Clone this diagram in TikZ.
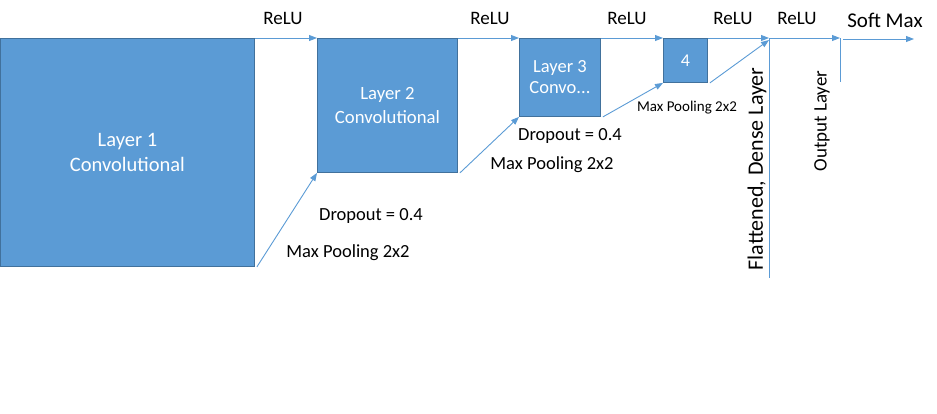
\documentclass[tikz,border=0pt]{standalone}
\usepackage{fontspec}
\setmainfont{Carlito}
\usetikzlibrary{arrows.meta}
\definecolor{boxfill}{HTML}{5B9BD5}
\definecolor{boxline}{HTML}{41719C}
\begin{document}
\begin{tikzpicture}[x=1pt,y=-1pt,
  layer/.style={draw=boxline,fill=boxfill,line width=0.9pt,text=white,anchor=north west,inner sep=0pt,align=center},
  conn/.style={draw=boxfill,line width=0.9pt,-{Triangle[width=6pt,length=8pt]}},
  plain/.style={draw=boxfill,line width=0.9pt},
  lbl/.style={font=\fontsize{18.5}{22}\selectfont,inner sep=0pt},
  rlbl/.style={inner sep=0pt,rotate=90}]
\useasboundingbox (0,0) rectangle (937,413);
\node[layer,minimum width=254pt,minimum height=228pt,font=\fontsize{20.5}{25}\selectfont] (b1) at (0,38) {Layer 1\\Convolutional};
\node[layer,minimum width=140pt,minimum height=134pt,font=\fontsize{18.7}{24}\selectfont] (b2) at (317,38) {Layer 2\\Convolutional};
\node[layer,minimum width=81pt,minimum height=78pt,font=\fontsize{18.5}{21}\selectfont] (b3) at (519,38) {Layer 3\\Convo...};
\node[layer,minimum width=44pt,minimum height=44pt,font=\fontsize{18}{21}\selectfont] (b4) at (663,38) {4};
% dense and output lines
\coordinate (dtop) at (769,38);
\coordinate (dbot) at (769,278);
\coordinate (dmid) at (769,40);
\coordinate (otop) at (840,38);
\coordinate (obot) at (840,82);
\coordinate (sstart) at (843,39);
\coordinate (send) at (914,39);
\draw[plain] (dtop) -- (dbot);
\draw[plain] (otop) -- (obot);
% top arrows
\draw[conn] (b1.north east) -- (b2.north west);
\draw[conn] (b2.north east) -- (b3.north west);
\draw[conn] (b3.north east) -- (b4.north west);
\draw[conn] (b4.north east) -- (dtop);
\draw[conn] (dtop) -- (otop);
\draw[conn] (sstart) -- (send);
% diagonal arrows
\draw[conn] ([xshift=2pt]b1.south east) -- (b2.south west);
\draw[conn] ([xshift=2pt]b2.south east) -- (b3.south west);
\draw[conn] ([xshift=2pt]b3.south east) -- (b4.south west);
\draw[conn] ([xshift=2pt]b4.south east) -- (dmid);
% labels
\node[lbl,font=\fontsize{19}{22}\selectfont] (r1) at (283,18) {ReLU};
\node[lbl,font=\fontsize{19}{22}\selectfont] (r2) at (490,18) {ReLU};
\node[lbl,font=\fontsize{19}{22}\selectfont] (r3) at (627,18) {ReLU};
\node[lbl,font=\fontsize{19}{22}\selectfont] (r4) at (733,18) {ReLU};
\node[lbl,font=\fontsize{19}{22}\selectfont] (r5) at (797,18) {ReLU};
\node[lbl,font=\fontsize{21}{24}\selectfont] (sm) at (885,20) {Soft Max};
\node[lbl] (d1) at (371,216) {Dropout = 0.4};
\node[lbl] (m1) at (348,253) {Max Pooling 2x2};
\node[lbl] (d2) at (570,136) {Dropout = 0.4};
\node[lbl] (m2) at (552,165) {Max Pooling 2x2};
\node[lbl,font=\fontsize{15}{17}\selectfont] (m3) at (687,108) {Max Pooling 2x2};
\node[rlbl,font=\fontsize{22}{25}\selectfont] (fl) at (757,169) {Flattened, Dense Layer};
\node[rlbl,font=\fontsize{19}{22}\selectfont] (ol) at (822,121) {Output Layer};
\end{tikzpicture}
\end{document}
